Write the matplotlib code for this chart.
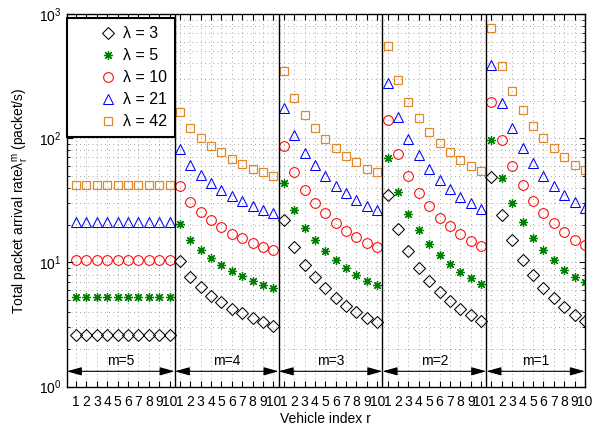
import matplotlib.pyplot as plt
from matplotlib.ticker import FixedLocator, LogLocator, NullFormatter

plt.rcParams['font.family'] = ['Liberation Sans', 'DejaVu Sans']
plt.rcParams['mathtext.fontset'] = 'custom'
plt.rcParams['mathtext.rm'] = 'Liberation Sans'
plt.rcParams['mathtext.default'] = 'regular'

# vehicle index r = 1..10 for each group m = 5,4,3,2,1
groups = ['m=5', 'm=4', 'm=3', 'm=2', 'm=1']
r_labels = [str(i) for i in range(1, 11)] * 5
legend_labels = ['λ = 3', 'λ = 5', 'λ = 10', 'λ = 21', 'λ = 42']

lam3 = [2.625] * 10 + \
    [10.3, 7.6, 6.3, 5.4, 4.8, 4.25, 3.9, 3.6, 3.3, 3.1] + \
    [21.8, 13.3, 9.6, 7.6, 6.2, 5.2, 4.5, 4.0, 3.6, 3.3] + \
    [34.8, 18.6, 12.3, 9.1, 7.1, 5.75, 4.9, 4.2, 3.75, 3.4] + \
    [48.6, 24.0, 15.1, 10.5, 7.9, 6.25, 5.2, 4.4, 3.8, 3.4]
lam5 = [5.25] * 10 + \
    [20.5, 15.3, 12.6, 10.9, 9.6, 8.5, 7.8, 7.1, 6.6, 6.25] + \
    [43.5, 26.5, 19.1, 15.1, 12.4, 10.4, 9.0, 8.0, 7.1, 6.6] + \
    [69.6, 37.1, 24.6, 18.3, 14.1, 11.5, 9.75, 8.4, 7.5, 6.75] + \
    [97.3, 48.0, 30.1, 21.0, 15.8, 12.5, 10.4, 8.75, 7.6, 6.9]
lam10 = [10.5] * 10 + \
    [41.0, 30.5, 25.3, 21.8, 19.3, 17.0, 15.6, 14.3, 13.3, 12.5] + \
    [87.0, 53.0, 38.3, 30.3, 24.8, 20.8, 18.0, 16.0, 14.3, 13.3] + \
    [139.0, 74.0, 49.3, 36.5, 28.3, 23.0, 19.5, 16.8, 15.0, 13.5] + \
    [194.0, 96.0, 60.3, 42.0, 31.5, 25.0, 20.8, 17.5, 15.3, 13.8]
lam21 = [21.0] * 10 + \
    [82.0, 61.0, 50.5, 43.5, 38.5, 34.0, 31.0, 28.5, 26.5, 25.0] + \
    [174.0, 106.0, 76.5, 60.5, 49.5, 41.5, 36.0, 32.0, 28.5, 26.5] + \
    [278.0, 148.0, 98.5, 73.0, 56.5, 46.0, 39.0, 33.5, 30.0, 27.0] + \
    [389.0, 192.0, 120.0, 84.0, 63.0, 50.0, 41.5, 35.0, 30.5, 27.5]
lam42 = [42.0] * 10 + \
    [164, 122, 101, 87, 77, 68, 62.5, 57, 53, 50] + \
    [348, 212, 153, 121, 99, 83, 72, 64, 57, 53] + \
    [557, 297, 197, 146, 113, 92, 78, 67, 60, 54] + \
    [778, 384, 241, 168, 126, 100, 83, 70, 61, 55]

x = list(range(1, 51))

fig = plt.figure(figsize=(5.94, 4.30), dpi=100)
ax = fig.add_axes([0.1123, 0.1007, 0.8725, 0.8667])

ax.plot(x, lam3, 'D', mfc='none', mec='k', ms=5.8, mew=0.75, label=legend_labels[0])
ax.plot(x, lam5, marker=(8, 2, 0), ls='none', color='#008000', ms=6.5, mew=0.9, label=legend_labels[1])
ax.plot(x, lam10, 'o', mfc='none', mec='#ff0000', ms=7, mew=0.75, label=legend_labels[2])
ax.plot(x, lam21, '^', mfc='none', mec='#0000ff', ms=7.5, mew=0.75, label=legend_labels[3])
ax.plot(x, lam42, 's', mfc='none', mec='#e0892a', ms=5.6, mew=0.9, label=legend_labels[4])

ax.set_yscale('log')
ax.set_ylim(1, 1000)
ax.set_xlim(0.1, 50)

# group separators, arrows and labels
bounds = [0.1, 10.5, 20.5, 30.5, 40.5, 50]
for b in bounds[1:-1]:
    ax.axvline(b, color='k', lw=1)
for i, g in enumerate(groups):
    ax.annotate('', xy=(bounds[i + 1], 1.33), xytext=(bounds[i], 1.33),
                arrowprops=dict(arrowstyle='<|-|>,head_length=0.9,head_width=0.25',
                                color='k', lw=0.8, shrinkA=0, shrinkB=0))
    ax.text((bounds[i] + bounds[i + 1]) / 2, 1.62, g, ha='center', va='center', fontsize=10)

ax.xaxis.set_major_locator(FixedLocator(x))
ax.set_xticklabels(r_labels, fontsize=10)
ax.yaxis.set_major_locator(LogLocator(base=10, numticks=10))
ax.yaxis.set_minor_locator(LogLocator(base=10, subs=range(2, 10), numticks=10))
ax.yaxis.set_minor_formatter(NullFormatter())
ax.tick_params(axis='both', which='both', direction='in', top=True, right=True, labelsize=10)
ax.tick_params(axis='x', pad=6, length=4)
ax.tick_params(axis='y', which='major', length=4)
ax.tick_params(axis='y', which='minor', length=2.5)

ax.grid(True, which='major', axis='x', ls=(0, (1, 4)), color='#888888', lw=0.6)
ax.grid(True, which='both', axis='y', ls=(0, (1, 4)), color='#888888', lw=0.6)
ax.set_axisbelow(True)

ax.set_xlabel('Vehicle index r', fontsize=10, labelpad=2)
ax.set_ylabel(r'Total packet arrival rate$\lambda_r^m$ (packet/s)', fontsize=10, labelpad=6)

leg = ax.legend(loc='upper left', bbox_to_anchor=(0.001, 0.989), fontsize=11.5,
                frameon=True, fancybox=False, edgecolor='k', borderaxespad=0,
                handlelength=4.1, handletextpad=-1.12, labelspacing=0.44, borderpad=0.5)
leg.get_frame().set_linewidth(1.5)
leg.get_frame().set_alpha(1)

for s in ax.spines.values():
    s.set_linewidth(1)

fig.savefig('out.png', dpi=100)
